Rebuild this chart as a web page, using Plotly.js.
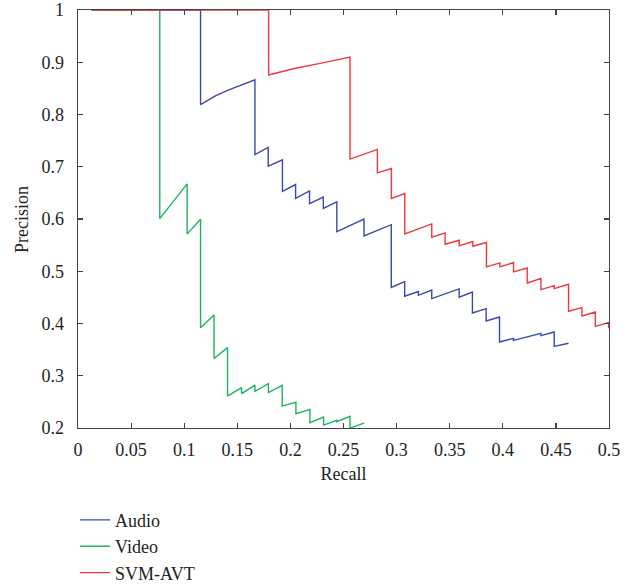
<!DOCTYPE html>
<html>
<head>
<meta charset="utf-8">
<script src="https://cdn.plot.ly/plotly-3.0.1.min.js"></script>
<style>html,body{margin:0;padding:0;background:#fff;}#chart{width:631px;height:584px;}</style>
</head>
<body>
<div id="chart"></div>
<script>
// ---- data ----
const audioRecall = [0.0126, 0.1154, 0.1154, 0.1289, 0.1414, 0.1540, 0.1666, 0.1666, 0.1791, 0.1791, 0.1925, 0.1925, 0.2049, 0.2049, 0.2180, 0.2180, 0.2310, 0.2310, 0.2437, 0.2437, 0.2693, 0.2693, 0.2950, 0.2950, 0.3076, 0.3076, 0.3205, 0.3205, 0.3331, 0.3331, 0.3589, 0.3589, 0.3714, 0.3714, 0.3843, 0.3843, 0.3969, 0.3969, 0.4101, 0.4101, 0.4359, 0.4359, 0.4484, 0.4484, 0.4619];
const audioPrecision = [1, 1, 0.819, 0.8352, 0.8467, 0.8569, 0.8665, 0.7232, 0.737, 0.701, 0.7132, 0.6527, 0.666, 0.6395, 0.6538, 0.6293, 0.6418, 0.6203, 0.6328, 0.576, 0.5996, 0.5676, 0.5891, 0.469, 0.4803, 0.4521, 0.4611, 0.454, 0.464, 0.4477, 0.4661, 0.4502, 0.4603, 0.4201, 0.4285, 0.4048, 0.4124, 0.3646, 0.3716, 0.3678, 0.3812, 0.3768, 0.3837, 0.3563, 0.3621];

const videoRecall = [0.0126, 0.077, 0.077, 0.1028, 0.1028, 0.1154, 0.1154, 0.1281, 0.1281, 0.1408, 0.1408, 0.154, 0.154, 0.1666, 0.1666, 0.1793, 0.1793, 0.1923, 0.1923, 0.2052, 0.2052, 0.2184, 0.2184, 0.2313, 0.2313, 0.2436, 0.2436, 0.2561, 0.2561, 0.2693];
const videoPrecision = [1, 1, 0.6006, 0.6672, 0.5715, 0.5996, 0.3918, 0.4163, 0.333, 0.3538, 0.2611, 0.2774, 0.2659, 0.2822, 0.2701, 0.2849, 0.2678, 0.2816, 0.242, 0.2496, 0.2274, 0.2356, 0.2101, 0.2209, 0.2056, 0.2146, 0.2121, 0.2222, 0.1998, 0.2094];

const svmRecall = [0.0126, 0.1795, 0.1795, 0.2027, 0.2279, 0.2561, 0.2561, 0.2819, 0.2819, 0.2951, 0.2951, 0.3077, 0.3077, 0.3331, 0.3331, 0.3457, 0.3457, 0.3589, 0.3589, 0.3718, 0.3718, 0.3846, 0.3846, 0.3972, 0.3972, 0.4101, 0.4101, 0.423, 0.423, 0.4359, 0.4359, 0.4484, 0.4484, 0.4619, 0.4619, 0.4745, 0.4745, 0.4871, 0.4871, 0.4996, 0.4996];
const svmPrecision = [1, 1, 0.8755, 0.8876, 0.8979, 0.91, 0.7146, 0.7331, 0.6883, 0.6967, 0.6393, 0.6488, 0.5715, 0.5906, 0.5651, 0.5734, 0.5517, 0.5594, 0.5485, 0.5569, 0.5479, 0.555, 0.5083, 0.5159, 0.5083, 0.5167, 0.4987, 0.5063, 0.4776, 0.486, 0.4649, 0.4726, 0.4668, 0.4751, 0.4234, 0.4305, 0.4144, 0.422, 0.3946, 0.4017, 0.391];

const xTickVals = [0, 0.05, 0.1, 0.15, 0.2, 0.25, 0.3, 0.35, 0.4, 0.45, 0.5];
const xTickText = ["0", "0.05", "0.1", "0.15", "0.2", "0.25", "0.3", "0.35", "0.4", "0.45", "0.5"];
const yTickVals = [0.2, 0.3, 0.4, 0.5, 0.6, 0.7, 0.8, 0.9, 1];
const yTickText = ["0.2", "0.3", "0.4", "0.5", "0.6", "0.7", "0.8", "0.9", "1"];
const xTitle = "Recall";
const yTitle = "Precision";

// ---- chart ----
const FONT = "Liberation Serif, Times New Roman, serif";
const NBSP2 = "\u00A0\u00A0";
const traces = [
  {x: audioRecall, y: audioPrecision, name: "Audio", mode: "lines", line: {color: "#3a4aa6", width: 1.4}},
  {x: videoRecall, y: videoPrecision, name: "Video", mode: "lines", line: {color: "#1fb25c", width: 1.4}},
  {x: svmRecall, y: svmPrecision, name: "SVM-AVT", mode: "lines", line: {color: "#ee3a3e", width: 1.4}}
];
const axisCommon = {
  showgrid: false, zeroline: false, showline: true, linecolor: "#444", linewidth: 1.3,
  mirror: "ticks", ticks: "inside", ticklen: 5, tickwidth: 1.2, tickcolor: "#444",
  tickfont: {family: FONT, size: 18, color: "#222"}, tickmode: "array", automargin: false
};
const layout = {
  width: 631, height: 584,
  margin: {l: 78, r: 22, t: 10, b: 156, pad: 0, autoexpand: false},
  paper_bgcolor: "#fff", plot_bgcolor: "#fff",
  font: {family: FONT, size: 18, color: "#222"},
  showlegend: true,
  legend: {xref: "container", yref: "container", x: 0.119, y: 0.141, xanchor: "left", yanchor: "top",
           bgcolor: "rgba(0,0,0,0)",
           font: {family: FONT, size: 18, color: "#222"}, tracegroupgap: 0},
  xaxis: Object.assign({}, axisCommon, {range: [0, 0.5], tickvals: xTickVals, ticktext: xTickText,
           ticklabelstandoff: 5,
           title: {text: xTitle, font: {family: FONT, size: 18, color: "#222"}}}),
  yaxis: Object.assign({}, axisCommon, {range: [0.2, 1], tickvals: yTickVals,
           ticktext: yTickText.map(t => t + NBSP2)}),
  annotations: [{text: yTitle, xref: "paper", yref: "paper", x: -0.1055, y: 0.5,
                 xanchor: "center", yanchor: "middle", textangle: -90, showarrow: false,
                 font: {family: FONT, size: 18, color: "#222"}}]
};
Plotly.newPlot("chart", traces, layout, {displayModeBar: false, staticPlot: true})
  .then(gd => Plotly.relayout(gd, {"xaxis.title.standoff": 8}));
</script>
</body>
</html>
